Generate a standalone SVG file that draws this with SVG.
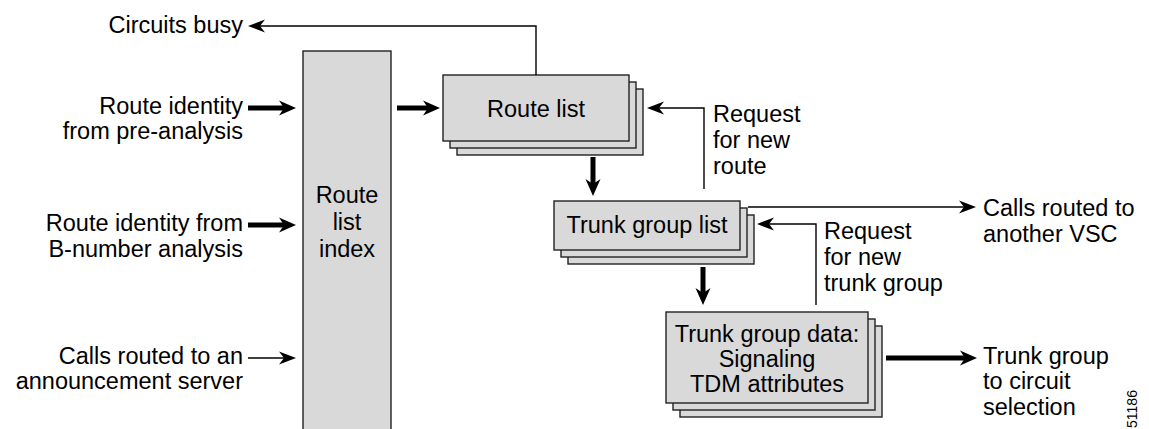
<svg xmlns="http://www.w3.org/2000/svg" width="1149" height="429" viewBox="0 0 1149 429">
<style>
text{font-family:"Liberation Sans",Arial,sans-serif;font-size:23.5px;fill:#000}
.box{fill:#d9d9d9;stroke:#222;stroke-width:1.4}
.thin{fill:none;stroke:#000;stroke-width:1.4}
.thick{fill:none;stroke:#000;stroke-width:5}
.r{text-anchor:end}
.m{text-anchor:middle}
</style>
<defs>
<marker id="ah" markerUnits="userSpaceOnUse" markerWidth="18" markerHeight="15" viewBox="0 -7.5 18 15" refX="5" refY="0" orient="auto">
<path d="M0,-6.5 L17,0 L0,6.5 L5,0 z" fill="#000"/>
</marker>
<marker id="ahb" markerUnits="userSpaceOnUse" markerWidth="18" markerHeight="17" viewBox="0 -8.5 18 17" refX="5" refY="0" orient="auto">
<path d="M0,-7.5 L17,0 L0,7.5 L5,0 z" fill="#000"/>
</marker>
</defs>

<g id="route-list-index">
<rect class="box" x="303" y="51" width="88" height="390"/>
<text class="m" x="347" y="203">Route</text>
<text class="m" x="347" y="230">list</text>
<text class="m" x="347" y="257">index</text>
</g>

<g id="route-list">
<rect class="box" x="457" y="89" width="186" height="66"/>
<rect class="box" x="450" y="82" width="186" height="66"/>
<rect class="box" x="443" y="75" width="186" height="66"/>
<text class="m" x="536" y="117">Route list</text>
</g>

<g id="trunk-group-list">
<rect class="box" x="568" y="215" width="186" height="49"/>
<rect class="box" x="561" y="208" width="186" height="49"/>
<rect class="box" x="554" y="201" width="186" height="49"/>
<text class="m" x="647" y="233">Trunk group list</text>
</g>

<g id="trunk-group-data">
<rect class="box" x="680" y="326" width="202" height="91"/>
<rect class="box" x="673" y="319" width="202" height="91"/>
<rect class="box" x="666" y="312" width="202" height="91"/>
<text class="m" x="767" y="342">Trunk group data:</text>
<text class="m" x="767" y="367">Signaling</text>
<text class="m" x="767" y="392">TDM attributes</text>
</g>

<g id="labels">
<text class="r" x="243" y="33">Circuits busy</text>
<text class="r" x="243" y="114">Route identity</text>
<text class="r" x="243" y="139">from pre-analysis</text>
<text class="r" x="243" y="231">Route identity from</text>
<text class="r" x="243" y="257">B-number analysis</text>
<text class="r" x="243" y="364">Calls routed to an</text>
<text class="r" x="243" y="389">announcement server</text>
<text x="713" y="122">Request</text>
<text x="713" y="148">for new</text>
<text x="713" y="174">route</text>
<text x="983" y="216">Calls routed to</text>
<text x="983" y="242">another VSC</text>
<text x="824" y="239">Request</text>
<text x="824" y="265">for new</text>
<text x="824" y="291">trunk group</text>
<text x="983" y="364">Trunk group</text>
<text x="983" y="389">to circuit</text>
<text x="983" y="415">selection</text>
<text x="1137" y="409" style="font-size:14px" class="m" transform="rotate(-90 1137 409)">51186</text>
</g>

<g id="connectors">
<path class="thin" d="M536,75 V26 H260" marker-end="url(#ah)"/>
<path class="thick" d="M248,108 H284" marker-end="url(#ahb)"/>
<path class="thick" d="M248,225 H284" marker-end="url(#ahb)"/>
<path class="thin" d="M248,358 H284" marker-end="url(#ah)"/>
<path class="thick" d="M397,108 H428" marker-end="url(#ahb)"/>
<path class="thick" d="M593,157 V184" marker-end="url(#ahb)"/>
<path class="thin" d="M704,189 V108 H659" marker-end="url(#ah)"/>
<path class="thin" d="M748,207 H964" marker-end="url(#ah)"/>
<path class="thick" d="M703,267 V293" marker-end="url(#ahb)"/>
<path class="thin" d="M816,305 V224 H769" marker-end="url(#ah)"/>
<path class="thick" d="M886,358 H965" marker-end="url(#ahb)"/>
</g>
</svg>
